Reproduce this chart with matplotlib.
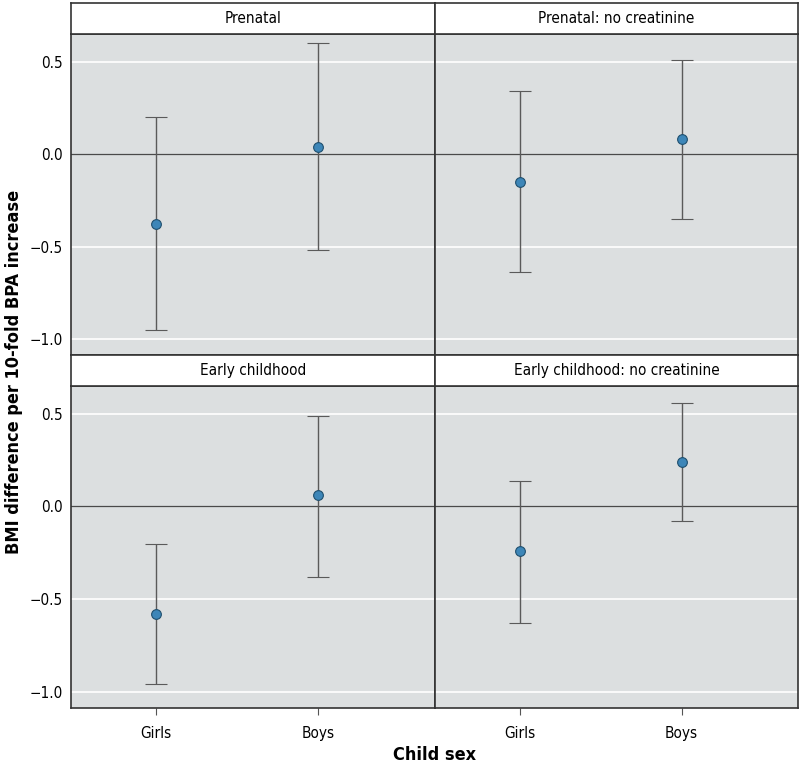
import matplotlib.pyplot as plt

# panel titles, in reading order
panels = ["Prenatal", "Prenatal: no creatinine",
          "Early childhood", "Early childhood: no creatinine"]
sexes = ["Girls", "Boys"]

# estimate, lower and upper CI for [Girls, Boys] in each panel
est = [[-0.38, 0.04], [-0.15, 0.08], [-0.58, 0.06], [-0.24, 0.24]]
lower = [[-0.95, -0.52], [-0.64, -0.35], [-0.96, -0.38], [-0.63, -0.08]]
upper = [[0.20, 0.60], [0.34, 0.51], [-0.20, 0.49], [0.14, 0.56]]

yticks = [-1.0, -0.5, 0.0, 0.5]
ytick_labels = ["\u22121.0", "\u22120.5", "0.0", "0.5"]

plt.rcParams['font.family'] = ['DejaVu Sans']
plt.rcParams['font.stretch'] = 'condensed'

W, H = 800, 767
fig = plt.figure(figsize=(W / 100, H / 100), dpi=100)

def box(x0, y0, x1, y1):
    # pixel box (top-left origin) -> figure fraction
    return [x0 / W, 1 - y1 / H, (x1 - x0) / W, (y1 - y0) / H]

cols = [(71, 435), (435, 798)]
rows = [(3, 34, 355), (355, 386, 708)]
bg = "#dcdfe0"

for i, name in enumerate(panels):
    r, c = divmod(i, 2)
    x0, x1 = cols[c]
    s0, p0, p1 = rows[r]

    ax = fig.add_axes(box(x0, p0, x1, p1))
    ax.set_facecolor(bg)
    for yv in yticks:
        if yv == 0:
            ax.axhline(yv, color="#4a4a4a", lw=0.9, zorder=1)
        else:
            ax.axhline(yv, color="white", lw=1.2, zorder=1)
    xs = [0, 1]
    yerr = [[est[i][k] - lower[i][k] for k in range(2)],
            [upper[i][k] - est[i][k] for k in range(2)]]
    ax.errorbar(xs, est[i], yerr=yerr, fmt="o", color="#555555",
                ecolor="#5a5a5a", elinewidth=1, capsize=8, capthick=1,
                markerfacecolor="#3d86b8", markeredgecolor="#1f4f6e",
                markersize=7, markeredgewidth=0.8, zorder=3)
    ax.set_xlim(-0.525, 1.72)
    ax.set_ylim(-1.087, 0.65)
    ax.set_yticks(yticks)
    if c == 0:
        ax.set_yticklabels(ytick_labels, fontsize=11)
        ax.tick_params(axis="y", length=0, pad=6)
    else:
        ax.tick_params(axis="y", length=0, labelleft=False)
    ax.set_xticks(xs)
    if r == 1:
        ax.set_xticklabels(sexes, fontsize=11)
        ax.tick_params(axis="x", length=5, color="#555555", pad=8)
    else:
        ax.tick_params(axis="x", length=0, labelbottom=False)
    for sp in ax.spines.values():
        sp.set_color("#333333")
        sp.set_linewidth(1.2)

    st = fig.add_axes(box(x0, s0, x1, p0))
    st.set_xticks([])
    st.set_yticks([])
    st.set_facecolor("white")
    for sp in st.spines.values():
        sp.set_color("#333333")
        sp.set_linewidth(1.2)
    st.text(0.5, 0.5, name, ha="center", va="center", fontsize=11,
            transform=st.transAxes)

fig.text(14 / W, 1 - 372 / H, "BMI difference per 10-fold BPA increase",
         rotation=90, ha="center", va="center", fontsize=13,
         fontweight="bold")
fig.text(435 / W, 1 - 755 / H, "Child sex", ha="center", va="center",
         fontsize=13, fontweight="bold")

plt.savefig("out.png", dpi=100)
plt.close()
